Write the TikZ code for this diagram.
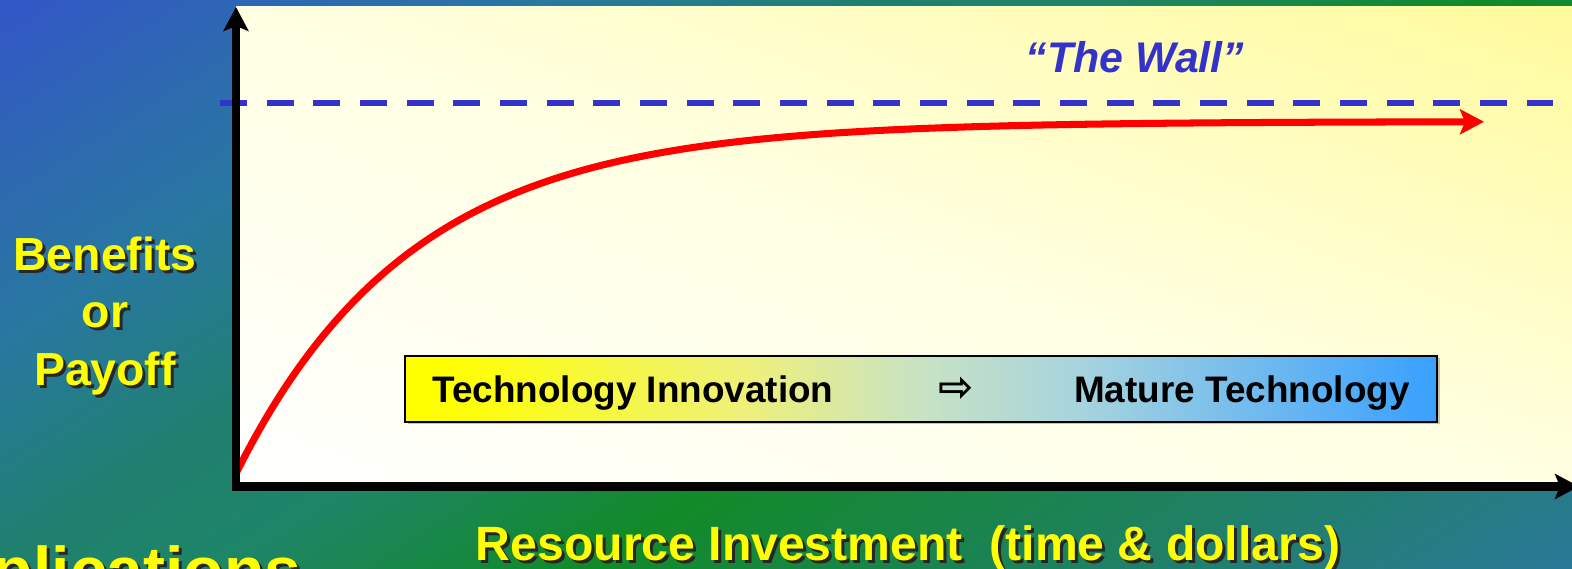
\documentclass[tikz,border=0pt]{standalone}
\usepackage{fontspec}
\setmainfont{Liberation Sans}
\newfontfamily\arrowfont{DejaVu Sans}
\usetikzlibrary{arrows.meta,positioning,shadows}

% Slide colours
\definecolor{bgtop}{RGB}{50,86,200}
\definecolor{bgsky}{RGB}{45,106,174}
\definecolor{bgsea}{RGB}{40,120,160}
\definecolor{bgteal}{RGB}{31,128,110}
\definecolor{bgmint}{RGB}{30,133,104}
\definecolor{bggreen}{RGB}{18,138,40}
\definecolor{bgdeep}{RGB}{42,120,152}
\definecolor{slideyellow}{RGB}{255,255,0}
\definecolor{wallblue}{RGB}{51,51,204}
\definecolor{papermid}{RGB}{255,255,226}
\definecolor{papercorner}{RGB}{255,250,155}
\definecolor{barstart}{RGB}{255,255,0}
\definecolor{barlime}{RGB}{238,240,122}
\definecolor{barmid}{RGB}{200,226,196}
\definecolor{baraqua}{RGB}{165,211,222}
\definecolor{barend}{RGB}{56,160,255}

% Shadings (the middle 25bp..75bp is stretched over the path)
\pgfdeclarehorizontalshading{slidebg}{100bp}{color(0bp)=(bgtop); color(25bp)=(bgtop);
  color(31.5bp)=(bgsky); color(36bp)=(bgsea); color(43bp)=(bgteal); color(47.5bp)=(bgmint);
  color(55bp)=(bggreen); color(75bp)=(bgdeep); color(100bp)=(bgdeep)}
\pgfdeclarehorizontalshading{paperbg}{100bp}{color(0bp)=(white); color(25bp)=(white);
  color(50bp)=(papermid); color(75bp)=(papercorner); color(100bp)=(papercorner)}
\pgfdeclarehorizontalshading{techbar}{100bp}{color(0bp)=(barstart); color(27bp)=(barstart);
  color(41.5bp)=(barlime); color(50bp)=(barmid); color(58bp)=(baraqua);
  color(75bp)=(barend); color(100bp)=(barend)}

\begin{document}
\begin{tikzpicture}

    % Styles for labels, lines and the bar
    \tikzset{
      lbl/.style={inner sep=0pt, align=center, text=slideyellow,
        font=\fontsize{13.2}{16.35}\selectfont\bfseries},
      lblshadow/.style={lbl, text=black!85},
      walllbl/.style={inner sep=0pt, text=wallblue,
        font=\fontsize{12.2}{14}\selectfont\bfseries\itshape},
      bartext/.style={inner sep=0pt, font=\fontsize{10.5}{12}\selectfont\bfseries},
      techbox/.style={draw=black, line width=0.8pt, shade, shading=techbar,
        minimum width=10.32cm, minimum height=0.66cm, inner sep=0pt,
        drop shadow={shadow xshift=0.025cm, shadow yshift=-0.025cm, fill=black!45}},
      axisline/.style={line width=2.3pt, line join=miter,
        {Stealth[length=0.24cm, width=0.25cm, inset=0.05cm]}-{Stealth[length=0.24cm, width=0.25cm, inset=0.05cm]}},
      wall/.style={draw=wallblue, line width=1.7pt, dash pattern=on 0.27cm off 0.1967cm},
      payoffline/.style={draw=red, line width=2pt,
        -{Stealth[length=0.24cm, width=0.25cm, inset=0.05cm]}},
    }

    % Frame and axis positions
    \def\picw{15.72}
    \def\pich{5.69}
    \def\xorig{2.36}  % y axis
    \def\yorig{0.825} % x axis
    \def\ywall{4.66}  % height of the wall

    \useasboundingbox (0,0) rectangle (\picw,\pich);
    \clip (0,0) rectangle (\picw,\pich);

    % --- Slide background, shaded along the diagonal ---
    \begin{scope}[transform canvas={rotate=-57.69}]
      \shade[shading=slidebg] (-4.81,-0.1) rectangle (8.40,16.5);
    \end{scope}

    % --- Chart area, white in the corner, yellow towards the top right ---
    \coordinate (origin) at (\xorig,\yorig);
    \coordinate (ytip) at (\xorig,5.62);
    \coordinate (xtip) at (15.79,\yorig);
    \begin{scope}
      \clip (origin) rectangle (15.8,5.62);
      \begin{scope}[transform canvas={rotate=70.24}]
        \shade[shading=paperbg] (1.574,-14.7) rectangle (10.631,-0.2);
      \end{scope}
    \end{scope}

    % The wall and its label
    \coordinate (wall west) at (2.20,\ywall);
    \coordinate (wall east) at (15.53,\ywall);
    \draw[wall] (wall west) -- (wall east);
    \node[walllbl, anchor=base] (wall label) at (11.35,4.963) {``The Wall''};

    % Payoff curve, levelling off under the wall
    \draw[payoffline] plot[domain=2.36:14.84, samples=120, smooth]
      (\x, {4.475-3.46*exp(-0.57*(\x-2.39))});

    % Axes
    \draw[axisline] (ytip) -- (origin) -- (xtip);

    % --- Technology bar ---
    \node[techbox] (techbar) at (9.21,1.80) {};
    \node[bartext, anchor=base west] (innovation)
      at ([xshift=0.28cm, yshift=-0.14cm]techbar.west) {Technology Innovation};
    \node[bartext, anchor=base east] (mature)
      at ([xshift=-0.28cm, yshift=-0.14cm]techbar.east) {Mature Technology};
    \node[bartext, font=\arrowfont\fontsize{12}{12}\selectfont\bfseries] (shift arrow)
      at ([xshift=0.35cm]techbar.center) {⇨};

    % --- Axis labels (yellow over a dark shadow) ---
    \node[lblshadow, anchor=north] (payoff shadow) at (1.08,3.30) {Benefits\\or\\Payoff};
    \node[lbl, anchor=north] (payoff) at (1.05,3.33) {Benefits\\or\\Payoff};

    \node[lblshadow, font=\fontsize{13.7}{16}\selectfont\bfseries, anchor=base]
      (invest shadow) at (9.11,0.05) {Resource Investment~ (time \& dollars)};
    \node[lbl, font=\fontsize{13.7}{16}\selectfont\bfseries, anchor=base]
      (invest) at (9.08,0.08) {Resource Investment~ (time \& dollars)};

    \node[lblshadow, font=\fontsize{18.8}{20}\selectfont\bfseries, anchor=base east]
      (apps shadow) at (3.05,-0.28) {plications};
    \node[lbl, font=\fontsize{18.8}{20}\selectfont\bfseries, anchor=base east]
      (apps) at (3.02,-0.25) {plications};
\end{tikzpicture}
\end{document}
